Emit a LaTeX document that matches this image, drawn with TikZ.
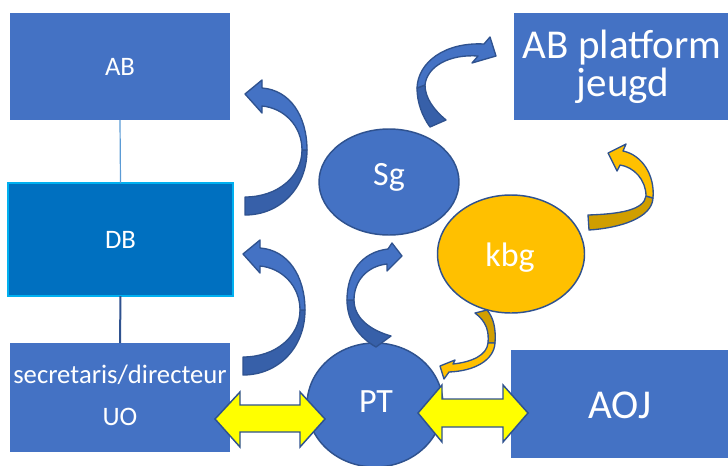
\documentclass[tikz,border=0pt]{standalone}
\usepackage{fontspec}
\setmainfont{Carlito}
\usetikzlibrary{shapes.geometric}
\definecolor{boxblue}{HTML}{4472C4}
\definecolor{dbfill}{HTML}{0070C0}
\definecolor{dbline}{HTML}{00B0F0}
\definecolor{outl}{HTML}{2F528F}
\definecolor{bandd}{HTML}{3760A9}
\definecolor{orng}{HTML}{FFC000}
\definecolor{orngd}{HTML}{D09E00}
\definecolor{ylw}{HTML}{FFFF00}
\definecolor{lnk}{HTML}{5B9BD5}
\begin{document}
\begin{tikzpicture}[x=0.75pt,y=-0.75pt,
  box/.style={fill=boxblue, minimum width=165pt, minimum height=80.25pt, inner sep=0, outer sep=0},
  oval/.style={ellipse, draw=outl, line width=1.1pt, inner sep=0},
  lbl/.style={anchor=base, inner sep=0, text=white},
  small/.style={font=\fontsize{20}{22}\selectfont},
  mid/.style={font=\fontsize{25.5}{27}\selectfont},
  big/.style={font=\fontsize{30.75}{32}\selectfont},
  bluelight/.style={fill=boxblue, draw=outl, line width=1pt, line join=round},
  bluedark/.style={fill=bandd, draw=outl, line width=1pt, line join=round},
  orlight/.style={fill=orng, draw=outl, line width=1pt, line join=round},
  ordark/.style={fill=orngd, draw=outl, line width=1pt, line join=round},
  yarrow/.style={fill=ylw, draw=outl, line width=1.1pt, line join=miter}]
\useasboundingbox (0,0) rectangle (728,465);

% boxes
\node[box] (AB) at (120,66.5) {};
\node[lbl, small] (ABt) at (120,75) {AB};
\node[box, fill=dbfill, draw=dbline, line width=1.5pt, minimum width=168.75pt, minimum height=84.75pt] (DB) at (120.5,239.5) {};
\node[lbl, small] (DBt) at (120.5,248) {DB};
\node[box, minimum height=81.75pt] (SEC) at (120,397.5) {};
\node[lbl, small] (SECt1) at (120,383) {secretaris/directeur};
\node[lbl, small] (SECt2) at (120,425) {UO};
\node[box, minimum width=162pt] (ABP) at (622,66.5) {};
\node[lbl, big] (ABPt1) at (622,58) {AB platform};
\node[lbl, big] (ABPt2) at (623,96) {jeugd};
\node[box, minimum width=166.5pt, minimum height=81pt] (AOJ) at (622,404) {};
\node[lbl, big] (AOJt) at (620,418) {AOJ};

% lines
\draw[lnk, line width=0.9pt] (AB.south) -- (DB.north);
\draw[outl, line width=1.5pt] (DB.south) -- (SEC.north);

% ellipses
\node[oval, fill=orng, minimum width=110.25pt, minimum height=88.5pt] (KBG) at (511,254) {};
\node[lbl, mid] (KBGt) at (510,266) {kbg};
\node[oval, fill=boxblue, minimum width=105pt, minimum height=79.5pt] (SG) at (389,182) {};
\node[lbl, mid] (SGt) at (389,185) {Sg};
\node[oval, fill=boxblue, minimum width=102pt, minimum height=93pt] (PT) at (375,405) {};
\node[lbl, mid] (PTt) at (376,412) {PT};

% blue curved arrows DB->AB and PT->DB
\foreach \dx/\dy in {0/0, -2/160}{
\begin{scope}[shift={(\dx,\dy)}]
\path[bluedark] (245,215) .. controls (280,215) and (307,188) .. (307,150) -- (302,150) .. controls (302,176) and (278,197) .. (245,197) -- cycle;
\path[bluelight] (307,150) .. controls (307,116) and (290,90) .. (262,88) -- (262,80) -- (245,94) -- (262,113) -- (262,106) .. controls (284,108) and (302,126) .. (302,150) -- cycle;
\end{scope}}

% PT -> Sg
\path[bluedark] (347,300) .. controls (347,322) and (360,338) .. (376,347) -- (391,336) .. controls (370,330) and (354,318) .. (354,300) -- cycle;
\path[bluelight] (347,300) .. controls (347,272) and (362,252) .. (388,249) -- (392,243) -- (402,256) -- (387,271) -- (387,264) .. controls (368,266) and (354,280) .. (354,300) -- cycle;

% Sg -> AB platform
\path[bluedark] (417,88) .. controls (417,102) and (422,116) .. (430,127) -- (446,120) .. controls (434,110) and (425,98) .. (425,85) -- cycle;
\path[bluelight] (417,88) .. controls (418,62) and (445,42) .. (484,44) -- (490,37) -- (496,56) -- (472,63) -- (478,56) .. controls (450,54) and (427,66) .. (425,85) -- cycle;

% kbg -> AB platform (orange)
\path[ordark] (589,230) .. controls (620,228) and (652,218) .. (653,198) -- (646,196) .. controls (644,210) and (620,214) .. (588,215) -- cycle;
\path[orlight] (653,198) .. controls (655,175) and (642,155) .. (623,151) -- (626,144) -- (608,153) -- (617,171) -- (620,165) .. controls (634,167) and (646,180) .. (646,196) -- cycle;

% kbg -> PT (orange)
\path[ordark] (475,313) .. controls (487,322) and (489,332) .. (488,343) -- (495,343) .. controls (496,330) and (494,318) .. (487,310) -- cycle;
\path[orlight] (495,343) .. controls (494,360) and (475,371) .. (449,372) -- (444,379) -- (440,366) -- (455,360) -- (453,364) .. controls (472,362) and (487,355) .. (488,343) -- cycle;

% yellow double arrows
\path[yarrow] (215,419) -- (240,392) -- (240,405) -- (300,405) -- (300,392) -- (325,419) -- (300,447) -- (300,432) -- (240,432) -- (240,447) -- cycle;
\path[yarrow] (418,413) -- (442,385) -- (442,399) -- (503,399) -- (503,385) -- (528,413) -- (503,442) -- (503,427) -- (442,427) -- (442,442) -- cycle;
\end{tikzpicture}
\end{document}
